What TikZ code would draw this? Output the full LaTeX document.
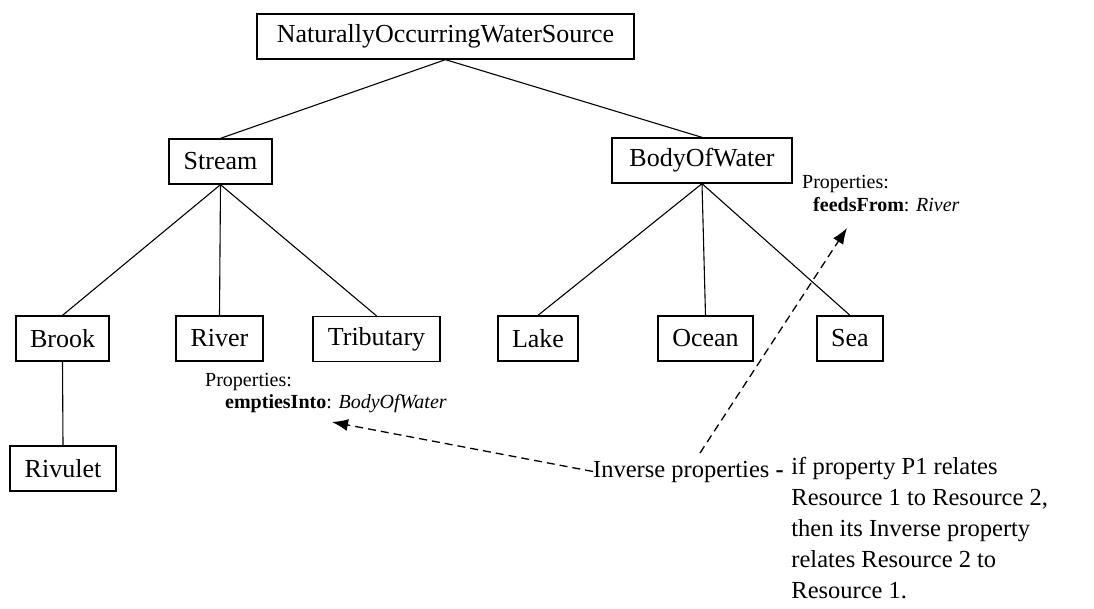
\documentclass[tikz,border=0pt]{standalone}
\usepackage{fontspec}
\setmainfont{Liberation Serif}
\usetikzlibrary{arrows.meta}
\begin{document}
\begin{tikzpicture}[x=1pt,y=-1pt,
  classbox/.style={draw, line width=1.3pt, inner sep=0pt, minimum height=45pt,
    font=\fontsize{26}{30}\selectfont},
  treeline/.style={line width=1.1pt},
  proplabel/.style={inner sep=0pt, anchor=base west, font=\fontsize{20}{24}\selectfont},
  note/.style={inner sep=0pt, font=\fontsize{24.5}{31}\selectfont},
  inverse/.style={dashed, dash pattern=on 8pt off 5pt, line width=1.3pt,
    -{Latex[length=16pt,width=12pt]}}]
\useasboundingbox (0,0) rectangle (1094,608);
% class hierarchy
\node[classbox, minimum width=377pt] (root) at (445.5,36.5) {NaturallyOccurringWaterSource};
\node[classbox, minimum width=103pt] (stream) at (220.5,161.5) {Stream};
\node[classbox, minimum width=180pt] (body) at (702,160.5) {BodyOfWater};
\node[classbox, minimum width=93pt] (brook) at (62.5,338.5) {Brook};
\node[classbox, minimum width=87pt] (river) at (219.5,338.5) {River};
\node[classbox, minimum width=127pt] (trib) at (376.5,339) {Tributary};
\node[classbox, minimum width=80pt] (lake) at (538,338.5) {Lake};
\node[classbox, minimum width=95pt] (ocean) at (705.5,338.5) {Ocean};
\node[classbox, minimum width=66pt] (sea) at (850,338.5) {Sea};
\node[classbox, minimum width=106pt] (rivulet) at (63,468.5) {Rivulet};
\draw[treeline] (root.south) -- (stream.north);
\draw[treeline] (root.south) -- (body.north);
\draw[treeline] (stream.south) -- (brook.north);
\draw[treeline] (stream.south) -- (river.north);
\draw[treeline] (stream.south) -- (trib.north);
\draw[treeline] (body.south) -- (lake.north);
\draw[treeline] (body.south) -- (ocean.north);
\draw[treeline] (body.south) -- (sea.north);
\draw[treeline] (brook.south) -- (rivulet.north);
% property annotations
\node[proplabel] (propA) at (205,386) {Properties:};
\node[proplabel] (propAval) at (225,408) {\textbf{emptiesInto}: \textit{BodyOfWater}};
\node[proplabel] (propB) at (802,188) {Properties:};
\node[proplabel] (propBval) at (813,211) {\textbf{feedsFrom}: \textit{River}};
% inverse property note
\node[note, anchor=base west] (inv) at (593,477) {Inverse properties \textbf{-}};
\node[note, anchor=north west, align=left] (invtext) at ([yshift=3.5pt]inv.north east)
  {\hspace{0.3em}if property P1 relates\\\hspace{0.3em}Resource 1 to Resource 2,\\\hspace{0.3em}then its Inverse property\\\hspace{0.3em}relates Resource 2 to\\\hspace{0.3em}Resource 1.};
\coordinate (tipA) at (332,422);
\coordinate (tipB) at (847,228);
\coordinate (startB) at (700,453);
\draw[inverse] (inv.west) -- (tipA);
\draw[inverse] (startB) -- (tipB);
\end{tikzpicture}
\end{document}
